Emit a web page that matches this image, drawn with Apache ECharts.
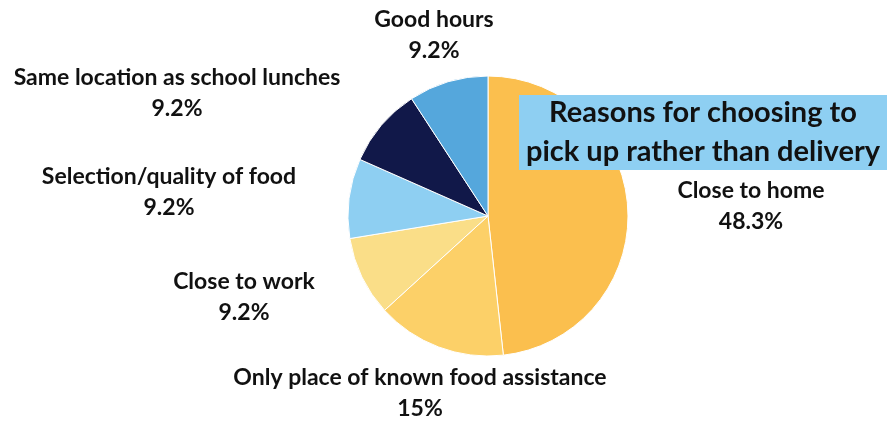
<!DOCTYPE html>
<html>
<head>
<meta charset="utf-8">
<style>
  html, body { margin: 0; padding: 0; background: #fff; }
  #main { width: 887px; height: 423px; }
</style>
<script src="https://cdn.jsdelivr.net/npm/echarts@6/dist/echarts.min.js"></script>
</head>
<body>
<div id="main"></div>
<script>
// data
var categories = [
  'Close to home',
  'Only place of known food assistance',
  'Close to work',
  'Selection/quality of food',
  'Same location as school lunches',
  'Good hours'
];
var shares = [48.3, 15, 9.2, 9.2, 9.2, 9.2];
var colors = ['#FBBF4E', '#FCD068', '#FADE88', '#8ECFF2', '#111849', '#55A7DC'];

// where each label block is centred (labels were placed by hand in the original)
var labelSpots = [[751, 206], [420, 393], [244, 297], [169, 192], [177, 93], [434, 35]];

var myChart = echarts.init(document.getElementById('main'));

var option = {
  backgroundColor: '#fff',
  animation: false,
  graphic: [
    {
      type: 'rect',
      shape: { x: 519, y: 95, width: 368, height: 75 },
      style: { fill: '#8ECFF2' },
      z: 100
    },
    {
      type: 'text',
      x: 703,
      y: 132,
      z: 101,
      style: {
        text: 'Reasons for choosing to\npick up rather than delivery',
        align: 'center',
        verticalAlign: 'middle',
        fill: '#111',
        font: 'bold 29px Lato',
        lineHeight: 39
      }
    }
  ],
  series: [
    {
      type: 'pie',
      center: [488, 216],
      radius: 140,
      startAngle: 90,
      clockwise: true,
      itemStyle: { borderColor: '#fff', borderWidth: 1 },
      label: {
        show: true,
        position: 'outside',
        formatter: function (p) { return p.name + '\n' + p.value + '%'; },
        fontFamily: 'Lato',
        fontWeight: 'bold',
        fontSize: 23,
        lineHeight: 31,
        color: '#111',
        align: 'center',
        overflow: 'none'
      },
      labelLine: { show: false },
      labelLayout: function (params) {
        var p = labelSpots[params.dataIndex];
        return { x: p[0], y: p[1], align: 'center', verticalAlign: 'middle', hideOverlap: false };
      },
      emphasis: { disabled: true },
      data: categories.map(function (c, i) {
        return { name: c, value: shares[i], itemStyle: { color: colors[i] } };
      })
    }
  ]
};

myChart.setOption(option);
</script>
</body>
</html>
